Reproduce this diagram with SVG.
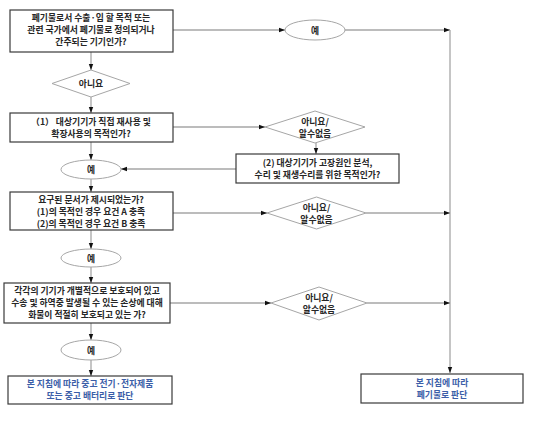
<svg xmlns="http://www.w3.org/2000/svg" width="537" height="421" viewBox="0 0 537 421">
<defs>
<marker id="ah" markerUnits="userSpaceOnUse" markerWidth="6" markerHeight="6" viewBox="0 0 6 6" refX="6" refY="3" orient="auto">
<path d="M0,0.8 L6,3 L0,5.2 Z" fill="#111"/>
</marker>
<style>
.box{fill:#fff;stroke:#3a3a3a;stroke-width:1.2}
.sh{fill:#fff;stroke:#a6a6a6;stroke-width:1}
.ln{fill:none;stroke:#a6a6a6;stroke-width:1.3;marker-end:url(#ah)}
.pl{fill:none;stroke:#a6a6a6;stroke-width:1.3}
text{font-family:"Noto Sans CJK KR","Noto Sans",sans-serif;font-size:8.8px;font-weight:bold;fill:#262626;text-anchor:middle}
.bl{fill:#3b5ea8}
</style>
</defs>
<rect width="537" height="421" fill="#fff"/>
<g id="connectors">
<line class="ln" x1="173" y1="30" x2="285" y2="30"/>
<line class="ln" x1="345" y1="30" x2="450" y2="30"/>
<line class="ln" x1="450" y1="30" x2="450" y2="373"/>
<line class="ln" x1="91" y1="52" x2="91" y2="70"/>
<line class="ln" x1="91" y1="97" x2="91" y2="113"/>
<line class="ln" x1="173" y1="127" x2="265" y2="127"/>
<line class="ln" x1="316" y1="143" x2="316" y2="154"/>
<line class="ln" x1="236" y1="169" x2="121" y2="169"/>
<line class="ln" x1="91" y1="142" x2="91" y2="160"/>
<line class="ln" x1="91" y1="179" x2="91" y2="192"/>
<line class="ln" x1="173" y1="213" x2="267" y2="213"/>
<line class="ln" x1="366" y1="213" x2="450" y2="213"/>
<line class="ln" x1="91" y1="230" x2="91" y2="249"/>
<line class="ln" x1="91" y1="267" x2="91" y2="283"/>
<line class="ln" x1="170" y1="303" x2="271" y2="303"/>
<line class="ln" x1="367" y1="303" x2="450" y2="303"/>
<line class="ln" x1="91" y1="323" x2="91" y2="340"/>
<line class="ln" x1="91" y1="360" x2="91" y2="376"/>
</g>
<g id="q1">
<rect class="box" x="10" y="10" width="163" height="42"/>
<text x="91" y="20.5">폐기물로서 수출·입 할 목적 또는</text>
<text x="91" y="32.5">관련 국가에서 폐기물로 정의되거나</text>
<text x="91" y="44.5">간주되는 기기인가?</text>
</g>
<g id="yes1">
<ellipse class="sh" cx="315" cy="30" rx="30" ry="10"/>
<text x="315" y="33.5">예</text>
</g>
<g id="no1">
<polygon class="sh" points="52,83.5 91,70 130,83.5 91,97"/>
<text x="91" y="87">아니요</text>
</g>
<g id="q2">
<rect class="box" x="10" y="113" width="163" height="29"/>
<text x="91" y="124.5">（1）  대상기기가 직접 재사용 및</text>
<text x="91" y="136.5">확장사용의 목적인가?</text>
</g>
<g id="no2">
<polygon class="sh" points="265,127 315,111 365,127 315,143"/>
<text x="315" y="125">아니요/</text>
<text x="315" y="137">알수없음</text>
</g>
<g id="q3">
<rect class="box" x="236" y="154" width="163" height="29"/>
<text x="317.5" y="165.5">(2) 대상기기가 고장원인 분석,</text>
<text x="317.5" y="177.5">수리 및 재생수리를 위한 목적인가?</text>
</g>
<g id="yes2">
<ellipse class="sh" cx="91" cy="169.5" rx="30" ry="9.5"/>
<text x="91" y="173">예</text>
</g>
<g id="q4">
<rect class="box" x="10" y="192" width="163" height="38"/>
<text x="91" y="202.5">요구된 문서가 제시되었는가?</text>
<text x="91" y="214.5">(1)의 목적인 경우 요건 A 충족</text>
<text x="91" y="226.5">(2)의 목적인 경우 요건 B 충족</text>
</g>
<g id="no3">
<polygon class="sh" points="267,213 316.5,197 366,213 316.5,229"/>
<text x="316.5" y="211">아니요/</text>
<text x="316.5" y="223">알수없음</text>
</g>
<g id="yes3">
<ellipse class="sh" cx="91" cy="258" rx="30" ry="9"/>
<text x="91" y="261.5">예</text>
</g>
<g id="q5">
<rect class="box" x="4" y="283" width="166" height="40"/>
<text x="87" y="294">각각의 기기가 개별적으로 보호되어 있고</text>
<text x="87" y="306">수송 및 하역중 발생될 수 있는 손상에 대해</text>
<text x="87" y="318">화물이 적절히 보호되고 있는 가?</text>
</g>
<g id="no4">
<polygon class="sh" points="271,303 319,287 367,303 319,320"/>
<text x="319" y="301">아니요/</text>
<text x="319" y="313">알수없음</text>
</g>
<g id="yes4">
<ellipse class="sh" cx="91" cy="350" rx="30" ry="10"/>
<text x="91" y="353.5">예</text>
</g>
<g id="r1">
<rect class="box" x="8" y="376" width="164" height="28"/>
<text class="bl" x="90" y="387">본 지침에 따라 중고 전기·전자제품</text>
<text class="bl" x="90" y="399">또는 중고 배터리로 판단</text>
</g>
<g id="r2">
<rect class="box" x="361" y="374" width="162" height="29"/>
<text class="bl" x="442" y="385.5">본 지침에 따라</text>
<text class="bl" x="442" y="397.5">폐기물로 판단</text>
</g>
</svg>
